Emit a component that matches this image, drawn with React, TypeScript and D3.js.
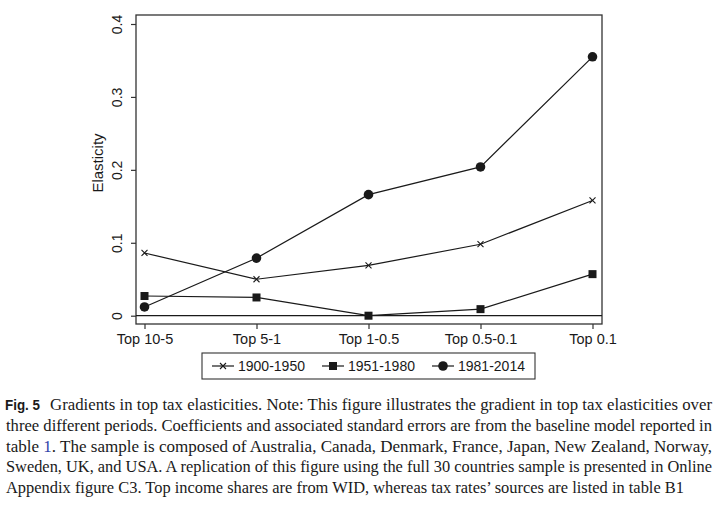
import { useRef, useEffect } from 'react'
import * as d3 from 'd3'

const categories = ['Top 10-5', 'Top 5-1', 'Top 1-0.5', 'Top 0.5-0.1', 'Top 0.1']
const seriesNames = ['1900-1950', '1951-1980', '1981-2014']
const early = [0.086, 0.05, 0.069, 0.098, 0.158]
const middle = [0.027, 0.025, 0.0, 0.009, 0.057]
const late = [0.012, 0.079, 0.166, 0.204, 0.355]
const yTicks = [0, 0.1, 0.2, 0.3, 0.4]

const captionLines = [
  'Gradients in top tax elasticities. Note: This figure illustrates the gradient in top tax elasticities over',
  'three different periods. Coefficients and associated standard errors are from the baseline model reported in',
  '. The sample is composed of Australia, Canada, Denmark, France, Japan, New Zealand, Norway,',
  'Sweden, UK, and USA. A replication of this figure using the full 30 countries sample is presented in Online',
  'Appendix figure C3. Top income shares are from WID, whereas tax rates\u2019 sources are listed in table B1',
]

const W = 723
const H = 512
const BOX = { left: 136, right: 602, top: 15, bottom: 324 }
const INK = '#1a1a1a'
const SANS = "Arial, 'Liberation Sans', Helvetica, sans-serif"
const SERIF = "'Liberation Serif', 'Times New Roman', serif"

type Marker = 'x' | 'square' | 'circle'

function drawMarker(g: d3.Selection<SVGGElement, unknown, null, undefined>, kind: Marker, cx: number, cy: number) {
  if (kind === 'x') {
    const s = 3
    g.append('path')
      .attr('d', `M${cx - s},${cy - s}L${cx + s},${cy + s}M${cx - s},${cy + s}L${cx + s},${cy - s}`)
      .attr('stroke', INK).attr('stroke-width', 1.1).attr('fill', 'none')
  } else if (kind === 'square') {
    g.append('rect').attr('x', cx - 4).attr('y', cy - 4).attr('width', 8).attr('height', 8).attr('fill', INK)
  } else {
    g.append('circle').attr('cx', cx).attr('cy', cy).attr('r', 4.8).attr('fill', INK)
  }
}

export default function App() {
  const svgRef = useRef<SVGSVGElement>(null)

  useEffect(() => {
    const svg = svgRef.current
    if (!svg) return
    const sel = d3.select(svg)
    sel.selectAll('*').remove()

    const x = d3.scalePoint().domain(categories).range([144.5, 592.5])
    const y = d3.scaleLinear().domain([0, 0.4]).range([315.7, 24])

    const g = sel.append('g')

    // plot box
    g.append('rect')
      .attr('x', BOX.left).attr('y', BOX.top)
      .attr('width', BOX.right - BOX.left).attr('height', BOX.bottom - BOX.top)
      .attr('fill', 'none').attr('stroke', '#333').attr('stroke-width', 1.3)

    // zero reference line
    g.append('line')
      .attr('x1', BOX.left).attr('x2', BOX.right)
      .attr('y1', y(0)).attr('y2', y(0))
      .attr('stroke', INK).attr('stroke-width', 1.2)

    // y axis
    const yAxis = d3.axisLeft(y).tickValues(yTicks).tickSize(5).tickPadding(5)
      .tickFormat((d) => (d === 0 ? '0' : d3.format('.1f')(d as number)))
    g.append('g')
      .attr('transform', `translate(${BOX.left},0)`)
      .call(yAxis)
      .call((a) => a.select('.domain').remove())
      .call((a) => a.selectAll('.tick line').attr('stroke', '#333').attr('stroke-width', 1.2))
      .call((a) =>
        a.selectAll<SVGTextElement, number>('.tick text')
          .attr('font-family', SANS).attr('font-size', 14).attr('fill', INK)
          .attr('text-anchor', 'middle').attr('dy', null).attr('x', null)
          .attr('transform', 'translate(-14,0) rotate(-90)'),
      )

    // x axis
    const xAxis = d3.axisBottom(x).tickSize(5).tickPadding(5)
    g.append('g')
      .attr('transform', `translate(0,${BOX.bottom})`)
      .call(xAxis)
      .call((a) => a.select('.domain').remove())
      .call((a) => a.selectAll('.tick line').attr('stroke', '#333').attr('stroke-width', 1.2))
      .call((a) => a.selectAll('.tick text').attr('font-family', SANS).attr('font-size', 14.5).attr('fill', INK))

    // y title
    g.append('text')
      .attr('transform', `translate(103,163) rotate(-90)`)
      .attr('text-anchor', 'middle')
      .attr('font-family', SANS).attr('font-size', 15).attr('fill', INK)
      .text('Elasticity')

    const series: { values: number[]; marker: Marker }[] = [
      { values: early, marker: 'x' },
      { values: middle, marker: 'square' },
      { values: late, marker: 'circle' },
    ]
    const line = d3.line<number>().x((_, i) => x(categories[i])!).y((d) => y(d))
    series.forEach((s) => {
      const sg = g.append('g')
      sg.append('path').attr('d', line(s.values)).attr('fill', 'none').attr('stroke', INK).attr('stroke-width', 1.2)
      s.values.forEach((v, i) => drawMarker(sg, s.marker, x(categories[i])!, y(v)))
    })

    // legend
    const lg = g.append('g')
    lg.append('rect').attr('x', 202).attr('y', 353).attr('width', 333).attr('height', 26)
      .attr('fill', 'none').attr('stroke', '#333').attr('stroke-width', 1.1)
    const legX = [212, 322, 432]
    series.forEach((s, i) => {
      const lx = legX[i]
      lg.append('line').attr('x1', lx).attr('x2', lx + 22).attr('y1', 366).attr('y2', 366)
        .attr('stroke', INK).attr('stroke-width', 1.2)
      drawMarker(lg, s.marker, lx + 11, 366)
      lg.append('text').attr('x', lx + 26).attr('y', 371)
        .attr('font-family', SANS).attr('font-size', 14).attr('fill', INK)
        .text(seriesNames[i])
    })

    // caption
    const cap = g.append('g').attr('font-family', SERIF).attr('font-size', 16.5).attr('fill', INK)
    const baselines = [410, 431, 452, 472, 493]
    cap.append('text').attr('x', 5).attr('y', baselines[0])
      .attr('font-family', SANS).attr('font-weight', 'bold').attr('font-size', 15)
      .attr('textLength', 35).attr('lengthAdjust', 'spacingAndGlyphs').text('Fig. 5')
    cap.append('text').attr('x', 50).attr('y', baselines[0])
      .attr('textLength', 662).attr('lengthAdjust', 'spacingAndGlyphs').text(captionLines[0])
    cap.append('text').attr('x', 6).attr('y', baselines[1])
      .attr('textLength', 706).attr('lengthAdjust', 'spacingAndGlyphs').text(captionLines[1])
    const t3 = cap.append('text').attr('x', 6).attr('y', baselines[2])
      .attr('textLength', 706).attr('lengthAdjust', 'spacingAndGlyphs')
    t3.append('tspan').text('table ')
    t3.append('tspan').attr('fill', '#3344aa').text('1')
    t3.append('tspan').text(captionLines[2])
    cap.append('text').attr('x', 6).attr('y', baselines[3])
      .attr('textLength', 706).attr('lengthAdjust', 'spacingAndGlyphs').text(captionLines[3])
    cap.append('text').attr('x', 6).attr('y', baselines[4])
      .attr('textLength', 678).attr('lengthAdjust', 'spacingAndGlyphs').text(captionLines[4])
  }, [])

  return (
    <svg
      ref={svgRef}
      width={W}
      height={H}
      style={{ position: 'absolute', left: 0, top: 0, background: '#fff' }}
    />
  )
}
